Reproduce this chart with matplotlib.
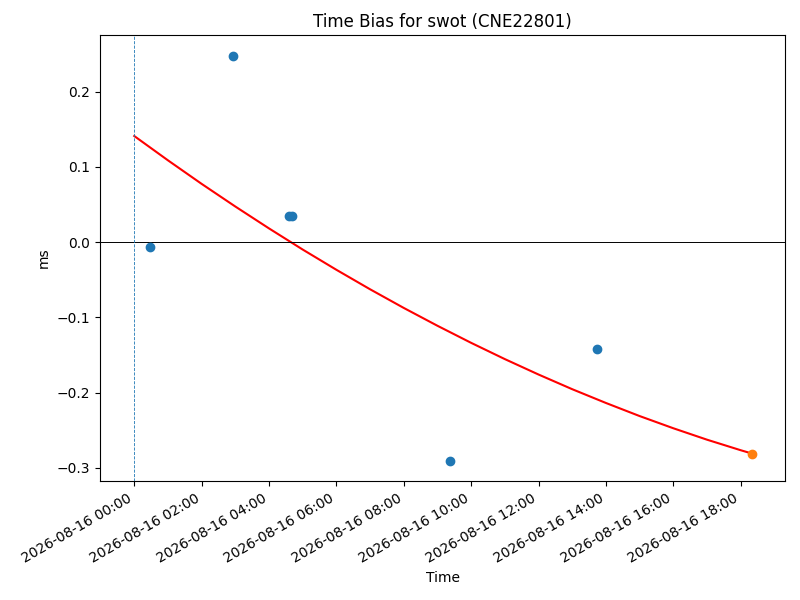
import matplotlib
matplotlib.use("Agg")
import matplotlib.pyplot as plt
import matplotlib.dates as mdates
import pandas as pd

# Observed time-bias points (ms)
obs_times = ["2026-08-16 00:28:30", "2026-08-16 02:56:30", "2026-08-16 04:35:00",
             "2026-08-16 04:40:30", "2026-08-16 09:23:00", "2026-08-16 13:45:00"]
obs_values = [-0.0070, 0.2470, 0.0346, 0.0346, -0.2910, -0.1427]

# Latest point (highlighted)
last_time = ["2026-08-16 18:20:00"]
last_value = [-0.2810]

# Fitted curve values
fit_times = ["2026-08-16 00:00", "2026-08-16 01:00", "2026-08-16 02:00", "2026-08-16 03:00",
             "2026-08-16 04:00", "2026-08-16 05:00", "2026-08-16 06:00", "2026-08-16 07:00",
             "2026-08-16 08:00", "2026-08-16 09:00", "2026-08-16 10:00", "2026-08-16 11:00",
             "2026-08-16 12:00", "2026-08-16 13:00", "2026-08-16 14:00", "2026-08-16 15:00",
             "2026-08-16 16:00", "2026-08-16 17:00", "2026-08-16 18:00", "2026-08-16 18:20"]
fit_values = [0.1410, 0.1087, 0.0774, 0.0473, 0.0182, -0.0099, -0.0368, -0.0627,
              -0.0875, -0.1112, -0.1339, -0.1555, -0.1760, -0.1955, -0.2138, -0.2312,
              -0.2474, -0.2626, -0.2766, -0.2810]

ref_time = "2026-08-16 00:00"

obs_t = pd.to_datetime(obs_times)
last_t = pd.to_datetime(last_time)
fit_t = pd.to_datetime(fit_times)
ref_t = pd.to_datetime(ref_time)

fig, ax = plt.subplots(figsize=(8, 6), dpi=100)
ax.scatter(obs_t, obs_values, color="C0", zorder=3)
ax.scatter(last_t, last_value, color="C1", zorder=3)
ax.plot(fit_t, fit_values, color="red", zorder=2)
ax.axhline(0, color="black", linewidth=0.7)
ax.axvline(ref_t, color="C0", linestyle="--", linewidth=0.6)

ax.set_xlim(pd.Timestamp("2026-08-15 22:59:00"), pd.Timestamp("2026-08-16 19:19:00"))
ax.set_ylim(-0.3178, 0.2753)
ax.xaxis.set_major_locator(mdates.HourLocator(interval=2))
ax.xaxis.set_major_formatter(mdates.DateFormatter("%Y-%m-%d %H:%M"))
for lbl in ax.get_xticklabels():
    lbl.set_rotation(30)
    lbl.set_ha("right")

ax.set_title("Time Bias for swot (CNE22801)")
ax.set_xlabel("Time")
ax.set_ylabel("ms")

fig.subplots_adjust(left=0.125, right=0.98125, top=0.9417, bottom=0.198)
fig.savefig("out.png", dpi=100)
